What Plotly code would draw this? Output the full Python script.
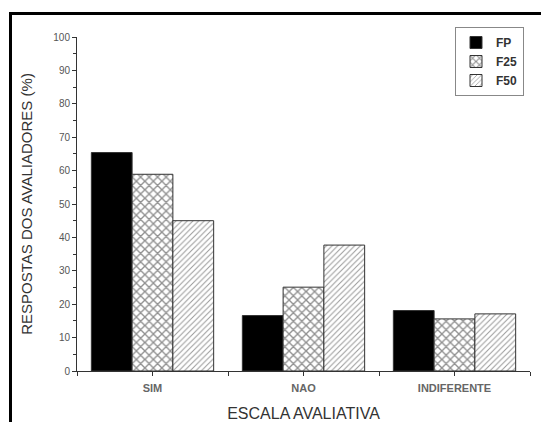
import plotly.graph_objects as go

categories = ["SIM", "NAO", "INDIFERENTE"]
fp = [65.4, 16.6, 18.1]
f25 = [58.9, 25.1, 15.6]
f50 = [45.0, 37.7, 17.1]
series_names = ["FP", "F25", "F50"]

W, H = 541, 422
L, R, T, B = 77, 11, 37, 51
x_idx = list(range(len(categories)))

fig = go.Figure()
line = dict(color="#333333", width=1)
fig.add_trace(go.Bar(x=x_idx, y=fp, name=series_names[0],
                     marker=dict(color="black", line=line)))
fig.add_trace(go.Bar(x=x_idx, y=f25, name=series_names[1],
                     marker=dict(color="white", line=line,
                                 pattern=dict(shape="x", fgcolor="#222222", bgcolor="white",
                                              size=6, solidity=0.4, fillmode="overlay"))))
fig.add_trace(go.Bar(x=x_idx, y=f50, name=series_names[2],
                     marker=dict(color="white", line=line,
                                 pattern=dict(shape="/", fgcolor="#333333", bgcolor="white",
                                              size=4, solidity=0.25, fillmode="overlay"))))

pw = W - L - R
ph = H - T - B
def px_x(p):
    return (p - L) / pw
def px_y(p):
    return (H - B - p) / ph

fig.update_layout(
    width=W, height=H,
    margin=dict(l=L, r=R, t=T, b=B, pad=0, autoexpand=False),
    paper_bgcolor="white", plot_bgcolor="white",
    barmode="group", bargap=0.19, bargroupgap=0,
    font=dict(family="Arial, Liberation Sans, sans-serif", color="#444444"),
    showlegend=True,
    legend=dict(x=px_x(524), y=px_y(27), xanchor="right", yanchor="top",
                bordercolor="#888888", borderwidth=1, bgcolor="white",
                font=dict(size=12, color="#333333", weight="bold"), tracegroupgap=0,
                itemwidth=30),
    xaxis=dict(range=[-0.5, 2.5], tickvals=x_idx, ticktext=categories,
               automargin=False,
               showline=True, linecolor="#333333", linewidth=1,
               ticks="outside", ticklen=4, tickcolor="#333333",
               tickfont=dict(size=11, color="#666666", weight="bold"),
               ticklabelstandoff=3,
               minor=dict(tick0=-0.5, dtick=1, ticks="outside", ticklen=4, tickcolor="#333333"),
               showgrid=False, zeroline=False,
               title=dict(text="ESCALA AVALIATIVA", font=dict(size=16, color="#333333"), standoff=14)),
    yaxis=dict(range=[0, 100], dtick=10, tick0=0,
               automargin=False,
               showline=True, linecolor="#333333", linewidth=1,
               ticks="outside", ticklen=4, tickcolor="#333333",
               tickfont=dict(size=10, color="#555555"),
               minor=dict(dtick=5, ticks="outside", ticklen=3, tickcolor="#333333"),
               showgrid=False, zeroline=False,
               title=dict(text="RESPOSTAS DOS AVALIADORES (%)", font=dict(size=15, color="#333333"), standoff=17)),
)

# picture frame (top and left borders)
fig.add_shape(type="line", xref="paper", yref="paper",
              x0=px_x(9), x1=px_x(W + 5), y0=px_y(13.5), y1=px_y(13.5),
              line=dict(color="black", width=3))
fig.add_shape(type="line", xref="paper", yref="paper",
              x0=px_x(10.5), x1=px_x(10.5), y0=px_y(12), y1=px_y(H + 5),
              line=dict(color="black", width=3))

fig.write_html("out.html", config={"displayModeBar": False},
               post_script="document.body.style.margin='0';document.body.style.overflow='hidden';")
